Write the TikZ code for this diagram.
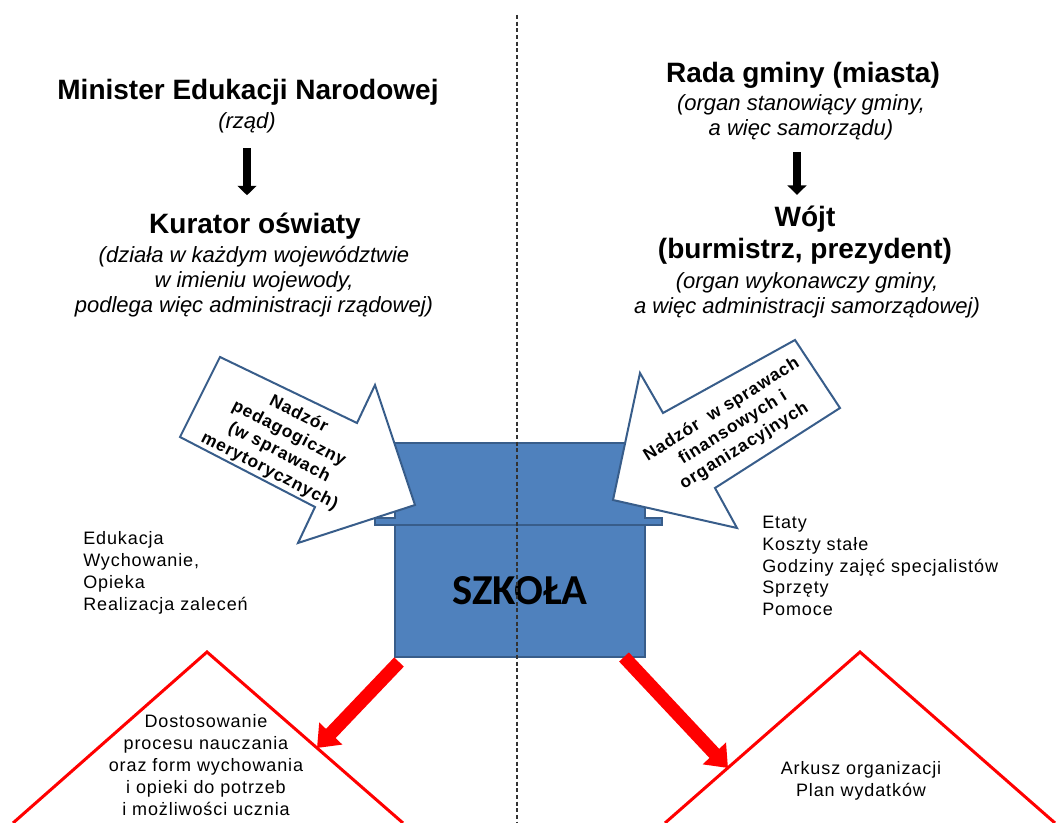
\documentclass[tikz,border=0pt]{standalone}
\usepackage{fontspec}
\setmainfont{Liberation Sans}
\newfontfamily\calibri{Carlito}
\newfontfamily\wide[LetterSpace=5]{Liberation Sans}
\usetikzlibrary{arrows.meta}
\definecolor{officeblue}{RGB}{79,129,189}
\definecolor{officeline}{RGB}{56,93,138}

\begin{document}
\begin{tikzpicture}[x=0.75pt,y=-0.75pt]
    \tikzset{title/.style={font=\fontsize{21}{24}\selectfont\bfseries, align=center, inner sep=0pt},
      note/.style={font=\fontsize{16.5}{18.8}\selectfont\itshape, align=center, inner sep=0pt},
      listing/.style={font=\wide\fontsize{13.5}{16.4}\selectfont, align=left, inner sep=0pt, anchor=west},
      tritext/.style={font=\wide\fontsize{13.5}{16.4}\selectfont, align=center, inner sep=0pt},
      bigtext/.style={font=\wide\fontsize{13}{16}\selectfont\bfseries, align=center, inner sep=0pt},
      bigarrow/.style={draw=officeline, line width=1.5pt, fill=white, line join=miter},
      schoolbox/.style={draw=officeline, line width=1.5pt, fill=officeblue},
      redtri/.style={draw=red, line width=2.25pt},
      blackarrow/.style={line width=5.5pt, -{Triangle[length=7pt,width=14pt]}},
      redarrow/.style={red, line width=10pt, -{Triangle[length=15pt,width=23pt]}},
    }
    \useasboundingbox (0,0) rectangle (1058,823);

    % szkola
    \draw[schoolbox] (395,443) -- (645,443) -- (645,518) -- (662,518) -- (662,525)
      -- (375,525) -- (375,518) -- (395,518) -- cycle;
    \node[schoolbox, minimum width=187.5pt, minimum height=99pt, inner sep=0pt,
      font=\calibri\bfseries\fontsize{32}{36}\selectfont] (S) at (520,591) {SZKOŁA};

    % nadzor
    \draw[bigarrow] (220,357) -- (357,423) -- (375,385) -- (415,505) -- (298,543)
      -- (315,507) -- (180,437) -- cycle;
    \node[bigtext, rotate=-27] (NP) at (284,443) {Nadzór\\pedagogiczny\\(w sprawach\\merytorycznych)};
    \draw[bigarrow] (795,340) -- (840,408) -- (715,488) -- (737,528) -- (613,500)
      -- (640,373) -- (663,413) -- cycle;
    \node[bigtext, rotate=32] (NF) at (733,428) {Nadzór \ w sprawach\\finansowych i\\organizacyjnych};

    \draw[densely dashed, line width=0.8pt, black!80] (517,15) -- (517,823);

    % lewa strona
    \node[title] (MEN) at (248,92) {Minister Edukacji Narodowej};
    \node[note] (R) at (247,123) {(rząd)};
    \node[title] (K) at (255,226) {Kurator oświaty};
    \node[note] (KO) at (254,282) {(działa w każdym województwie\\w imieniu wojewody,\\podlega więc administracji rządowej)};
    \draw[blackarrow, shorten <=11pt, shorten >=13pt] (R.south) -- (R.south |- K.north);

    % prawa strona
    \node[title] (RG) at (803,75) {Rada gminy (miasta)};
    \node[note] (RO) at (801,117) {(organ stanowiący gminy,\\a więc samorządu)};
    \node[title, text depth=0pt] (W) at (805,232) {Wójt\\(burmistrz, prezydent)};
    \node[note] (WO) at (807,295) {(organ wykonawczy gminy,\\a więc administracji samorządowej)};
    \draw[blackarrow, shorten <=9pt, shorten >=8pt] ([xshift=-3]RO.south) -- ([xshift=-3]RO.south |- W.north);

    \node[listing] (L) at (83,573) {Edukacja\\Wychowanie,\\Opieka\\Realizacja zaleceń};
    \node[listing] (P) at (762,566) {Etaty\\Koszty stałe\\Godziny zajęć specjalistów\\Sprzęty\\Pomoce};

    % trojkaty
    \coordinate (LT) at (317,748);
    \coordinate (PT) at (728,768);
    \draw[redtri] (13,823) -- (207,652) -- (403,823);
    \draw[redtri] (665,823) -- (860,652) -- (1055,823);
    \node[tritext] (D) at (206,765) {Dostosowanie\\procesu nauczania\\oraz form wychowania\\i opieki do potrzeb\\i możliwości ucznia};
    \node[tritext] (A) at (861,781) {Arkusz organizacji\\Plan wydatków};
    \draw[redarrow] ([shift={(5,4)}]S.south west) -- (LT);
    \draw[redarrow] ([shift={(-22,-1)}]S.south east) -- (PT);
  \end{tikzpicture}
\end{document}
